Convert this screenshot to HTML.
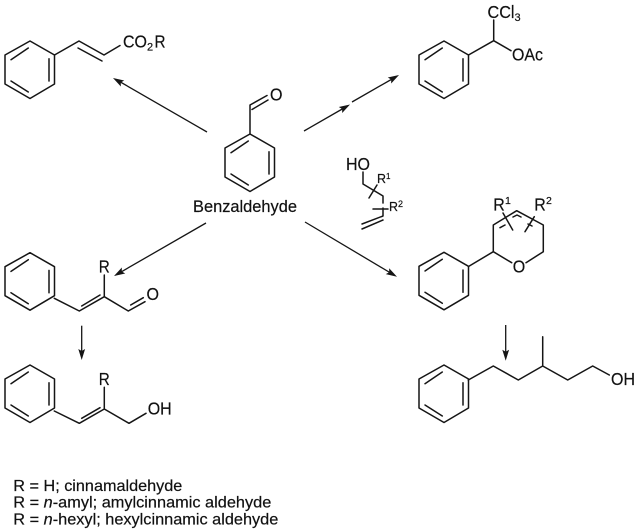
<!DOCTYPE html>
<html><head><meta charset="utf-8"><style>
html,body{margin:0;padding:0;background:#fff}
svg{display:block}
text{font-family:"Liberation Sans",sans-serif;fill:#111;stroke:#111;stroke-width:.2}
.b{fill:none;stroke:#151515;stroke-width:1.5;stroke-linejoin:round;stroke-linecap:round}
.a{fill:none;stroke:#151515;stroke-width:1.3}
.h{fill:#151515;stroke:none}
</style></head><body>
<svg width="640" height="531" viewBox="0 0 640 531" xmlns="http://www.w3.org/2000/svg">
<defs>
<g id="ph" class="b"><path d="M0 0L24.5 14V43L0 57.5L-25 43V14Z"/><path d="M19 17.7V40M-19 18.7L-1.7 7M-19 40L-1.7 51"/></g>
<g id="ah"><path class="h" d="M0 0L-11 -3.4L-9 0L-11 3.4Z"/></g>
</defs>
<rect width="640" height="531" fill="#fff"/>
<use href="#ph" x="30" y="41"/><use href="#ph" x="250" y="134"/><use href="#ph" x="444" y="41"/>
<use href="#ph" x="30" y="252.7"/><use href="#ph" x="30" y="365"/><use href="#ph" x="444" y="252.3"/><use href="#ph" x="444" y="365"/>
<path class="b" d="M54.5 55L79 41L104 55L120 45.5M78 48L102 61"/>
<text x="123" y="47.7" font-size="17.5" textLength="24" lengthAdjust="spacingAndGlyphs">CO</text><text x="147" y="50.5" font-size="11">2</text><text x="154.5" y="47.7" font-size="17.5" textLength="11" lengthAdjust="spacingAndGlyphs">R</text>
<path class="b" d="M250 134V105L267 95.5M252 109.5L268 100"/>
<text x="270" y="100.5" font-size="17.5" textLength="12.5" lengthAdjust="spacingAndGlyphs">O</text>
<text x="193" y="212" font-size="16.5" textLength="104" lengthAdjust="spacingAndGlyphs">Benzaldehyde</text>
<path class="a" d="M207 132L116 79.5"/><use href="#ah" transform="translate(113 78) rotate(210)"/>
<path class="a" d="M304 131L344 108"/><use href="#ah" transform="translate(350 104.5) rotate(-30)"/>
<path class="a" d="M352 102L393 78.5"/><use href="#ah" transform="translate(399 75) rotate(-30)"/>
<path class="a" d="M206 223L117 274.3"/><use href="#ah" transform="translate(114 276) rotate(150)"/>
<path class="a" d="M305 222L394 275"/><use href="#ah" transform="translate(397 276.7) rotate(30)"/>
<path class="a" d="M81.7 325.7V352"/><use href="#ah" transform="translate(81.7 360) rotate(90)"/>
<path class="a" d="M505.7 325V352"/><use href="#ah" transform="translate(505.7 360.7) rotate(90)"/>
<path class="b" d="M468.5 55L493.7 40.7V20M493.7 40.7L511 50.7"/>
<text x="487.5" y="18" font-size="17.5" textLength="27" lengthAdjust="spacingAndGlyphs">CCl</text><text x="514.5" y="21" font-size="11">3</text>
<text x="512" y="60.7" font-size="17.5" textLength="31" lengthAdjust="spacingAndGlyphs">OAc</text>
<text x="346" y="170" font-size="17.5" textLength="24" lengthAdjust="spacingAndGlyphs">HO</text>
<path class="b" d="M363 172V184L383 196V203M369 198L377 185M373 209H388M383 208V216L362 224M383 220L362 229"/>
<text x="377" y="183" font-size="13" textLength="9" lengthAdjust="spacingAndGlyphs">R</text><text x="386" y="179" font-size="8">1</text>
<text x="389" y="211" font-size="13" textLength="9" lengthAdjust="spacingAndGlyphs">R</text><text x="398" y="207" font-size="9">2</text>
<path class="b" d="M468.5 266.5L493.3 251.7V225L516.7 210.7L543.3 225V251.7L526 262.7M493.3 251.7L511.7 262.7"/>
<path class="b" d="M503 213L512.7 230M525 231.7L534.3 216.7M500 227.7L505 225M513 217L517 215L521 217M528 224L532 226"/>
<text x="512.8" y="272.5" font-size="17.5" textLength="12.5" lengthAdjust="spacingAndGlyphs">O</text>
<text x="493.3" y="210.7" font-size="17.5" textLength="11.5" lengthAdjust="spacingAndGlyphs">R</text><text x="505" y="204" font-size="10.5">1</text>
<text x="534.3" y="210.7" font-size="17.5" textLength="11.5" lengthAdjust="spacingAndGlyphs">R</text><text x="546" y="204" font-size="10.5">2</text>
<path class="b" d="M54.3 298.3L79.3 311L104.3 296.7V275M104.3 296.7L128.3 311L145 301.7M81.7 306L100 295M130.7 305L143.3 297.7"/>
<text x="98.7" y="272.7" font-size="17.5" textLength="11" lengthAdjust="spacingAndGlyphs">R</text><text x="146.5" y="300" font-size="17.5" textLength="12.5" lengthAdjust="spacingAndGlyphs">O</text>
<path class="b" d="M54.3 411L79.3 423.3L104.3 409V387.3M104.3 409L129 423.3L146 413.3M81.7 418.3L100 407.7"/>
<text x="98.7" y="385" font-size="17.5" textLength="11" lengthAdjust="spacingAndGlyphs">R</text><text x="147.7" y="414.3" font-size="17.5" textLength="24" lengthAdjust="spacingAndGlyphs">OH</text>
<path class="b" d="M468.3 380L493.3 366L518.3 380L542.7 366V336.7M542.7 366L567.7 380L592.7 366L609.3 375"/>
<text x="611" y="385" font-size="17.5" textLength="24" lengthAdjust="spacingAndGlyphs">OH</text>
<text x="13.3" y="491" font-size="16" textLength="169" lengthAdjust="spacingAndGlyphs">R = H; cinnamaldehyde</text>
<text x="13.3" y="507.7" font-size="16" textLength="258" lengthAdjust="spacingAndGlyphs">R = <tspan font-style="italic">n</tspan>-amyl; amylcinnamic aldehyde</text>
<text x="13.3" y="524.3" font-size="16" textLength="265" lengthAdjust="spacingAndGlyphs">R = <tspan font-style="italic">n</tspan>-hexyl; hexylcinnamic aldehyde</text>
</svg>
</body></html>
